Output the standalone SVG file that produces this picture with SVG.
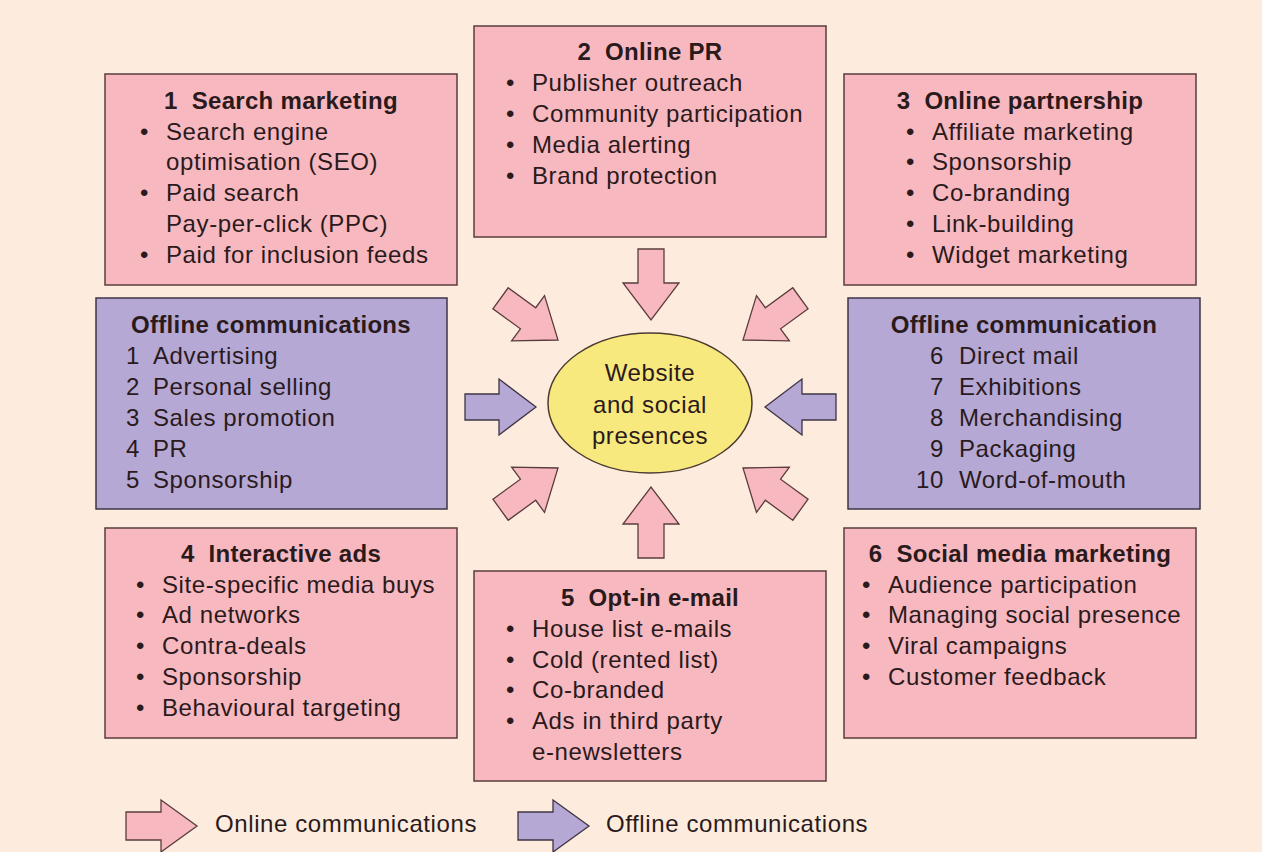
<svg xmlns="http://www.w3.org/2000/svg" width="1280" height="852" viewBox="0 0 1280 852">
<style>
.on{fill:#f8b8c0;stroke:#5a3c3c;stroke-width:1.5}
.off{fill:#b5a8d4;stroke:#3e3444;stroke-width:1.5}
.t{font-family:"Liberation Sans",Arial,sans-serif;font-size:24px;letter-spacing:0.6px;fill:#2a1a1c}
.b{font-weight:bold;text-anchor:middle;letter-spacing:0.3px}
.m{text-anchor:middle}
.r{text-anchor:end}
.aon{fill:#f8b8c0;stroke:#5a3c3c;stroke-width:1.3}
.aoff{fill:#b5a8d4;stroke:#3e3444;stroke-width:1.3}
</style>
<defs>
<path id="arr" d="M-71,-13 L-37,-13 L-37,-28 L0,0 L-37,28 L-37,13 L-71,13 Z"/>
</defs>
<rect x="0" y="0" width="1262" height="852" fill="#fdecdd"/>
<rect x="1262" y="0" width="18" height="852" fill="#ffffff"/>

<g id="connectors">
<use href="#arr" class="aon" transform="translate(651,320) rotate(90)"/>
<use href="#arr" class="aon" transform="translate(651,487) rotate(-90)"/>
<use href="#arr" class="aoff" transform="translate(536,407)"/>
<use href="#arr" class="aoff" transform="translate(765,407) rotate(180)"/>
<use href="#arr" class="aon" transform="translate(558,340) rotate(36)"/>
<use href="#arr" class="aon" transform="translate(743,340) rotate(144)"/>
<use href="#arr" class="aon" transform="translate(558,468) rotate(-36)"/>
<use href="#arr" class="aon" transform="translate(743,468) rotate(-144)"/>
</g>

<g id="center">
<ellipse cx="650" cy="403" rx="102" ry="70" fill="#f8e97e" stroke="#4a3a30" stroke-width="1.5"/>
<text class="t m" x="650" y="381">Website</text>
<text class="t m" x="650" y="413">and social</text>
<text class="t m" x="650" y="444">presences</text>
</g>

<g id="search-marketing">
<rect class="on" x="105" y="74" width="352" height="211"/>
<text class="t b" x="281" y="109">1&#160; Search marketing</text>
<text class="t" x="140" y="140">•</text><text class="t" x="166" y="140">Search engine</text>
<text class="t" x="166" y="170">optimisation (SEO)</text>
<text class="t" x="140" y="201">•</text><text class="t" x="166" y="201">Paid search</text>
<text class="t" x="166" y="232">Pay-per-click (PPC)</text>
<text class="t" x="140" y="263">•</text><text class="t" x="166" y="263">Paid for inclusion feeds</text>
</g>

<g id="online-pr">
<rect class="on" x="474" y="26" width="352" height="211"/>
<text class="t b" x="650" y="60">2&#160; Online PR</text>
<text class="t" x="506" y="91">•</text><text class="t" x="532" y="91">Publisher outreach</text>
<text class="t" x="506" y="122">•</text><text class="t" x="532" y="122">Community participation</text>
<text class="t" x="506" y="153">•</text><text class="t" x="532" y="153">Media alerting</text>
<text class="t" x="506" y="184">•</text><text class="t" x="532" y="184">Brand protection</text>
</g>

<g id="online-partnership">
<rect class="on" x="844" y="74" width="352" height="211"/>
<text class="t b" x="1020" y="109">3&#160; Online partnership</text>
<text class="t" x="906" y="140">•</text><text class="t" x="932" y="140">Affiliate marketing</text>
<text class="t" x="906" y="170">•</text><text class="t" x="932" y="170">Sponsorship</text>
<text class="t" x="906" y="201">•</text><text class="t" x="932" y="201">Co-branding</text>
<text class="t" x="906" y="232">•</text><text class="t" x="932" y="232">Link-building</text>
<text class="t" x="906" y="263">•</text><text class="t" x="932" y="263">Widget marketing</text>
</g>

<g id="offline-left">
<rect class="off" x="96" y="298" width="351" height="211"/>
<text class="t b" x="271" y="333">Offline communications</text>
<text class="t" x="126" y="364">1</text><text class="t" x="153" y="364">Advertising</text>
<text class="t" x="126" y="395">2</text><text class="t" x="153" y="395">Personal selling</text>
<text class="t" x="126" y="426">3</text><text class="t" x="153" y="426">Sales promotion</text>
<text class="t" x="126" y="457">4</text><text class="t" x="153" y="457">PR</text>
<text class="t" x="126" y="488">5</text><text class="t" x="153" y="488">Sponsorship</text>
</g>

<g id="offline-right">
<rect class="off" x="848" y="298" width="352" height="211"/>
<text class="t b" x="1024" y="333">Offline communication</text>
<text class="t r" x="944" y="364">6</text><text class="t" x="959" y="364">Direct mail</text>
<text class="t r" x="944" y="395">7</text><text class="t" x="959" y="395">Exhibitions</text>
<text class="t r" x="944" y="426">8</text><text class="t" x="959" y="426">Merchandising</text>
<text class="t r" x="944" y="457">9</text><text class="t" x="959" y="457">Packaging</text>
<text class="t r" x="944" y="488">10</text><text class="t" x="959" y="488">Word-of-mouth</text>
</g>

<g id="interactive-ads">
<rect class="on" x="105" y="528" width="352" height="210"/>
<text class="t b" x="281" y="562">4&#160; Interactive ads</text>
<text class="t" x="136" y="593">•</text><text class="t" x="162" y="593">Site-specific media buys</text>
<text class="t" x="136" y="623">•</text><text class="t" x="162" y="623">Ad networks</text>
<text class="t" x="136" y="654">•</text><text class="t" x="162" y="654">Contra-deals</text>
<text class="t" x="136" y="685">•</text><text class="t" x="162" y="685">Sponsorship</text>
<text class="t" x="136" y="716">•</text><text class="t" x="162" y="716">Behavioural targeting</text>
</g>

<g id="opt-in-email">
<rect class="on" x="474" y="571" width="352" height="210"/>
<text class="t b" x="650" y="606">5&#160; Opt-in e-mail</text>
<text class="t" x="506" y="637">•</text><text class="t" x="532" y="637">House list e-mails</text>
<text class="t" x="506" y="668">•</text><text class="t" x="532" y="668">Cold (rented list)</text>
<text class="t" x="506" y="698">•</text><text class="t" x="532" y="698">Co-branded</text>
<text class="t" x="506" y="729">•</text><text class="t" x="532" y="729">Ads in third party</text>
<text class="t" x="532" y="760">e-newsletters</text>
</g>

<g id="social-media">
<rect class="on" x="844" y="528" width="352" height="210"/>
<text class="t b" x="1020" y="562">6&#160; Social media marketing</text>
<text class="t" x="862" y="593">•</text><text class="t" x="888" y="593">Audience participation</text>
<text class="t" x="862" y="623">•</text><text class="t" x="888" y="623">Managing social presence</text>
<text class="t" x="862" y="654">•</text><text class="t" x="888" y="654">Viral campaigns</text>
<text class="t" x="862" y="685">•</text><text class="t" x="888" y="685">Customer feedback</text>
</g>

<g id="legend">
<path class="aon" d="M126,812 L161,812 L161,800 L197,826 L161,852 L161,840 L126,840 Z"/>
<text class="t" x="215" y="832">Online communications</text>
<path class="aoff" d="M518,812 L553,812 L553,800 L589,826 L553,852 L553,840 L518,840 Z"/>
<text class="t" x="606" y="832">Offline communications</text>
</g>
</svg>
